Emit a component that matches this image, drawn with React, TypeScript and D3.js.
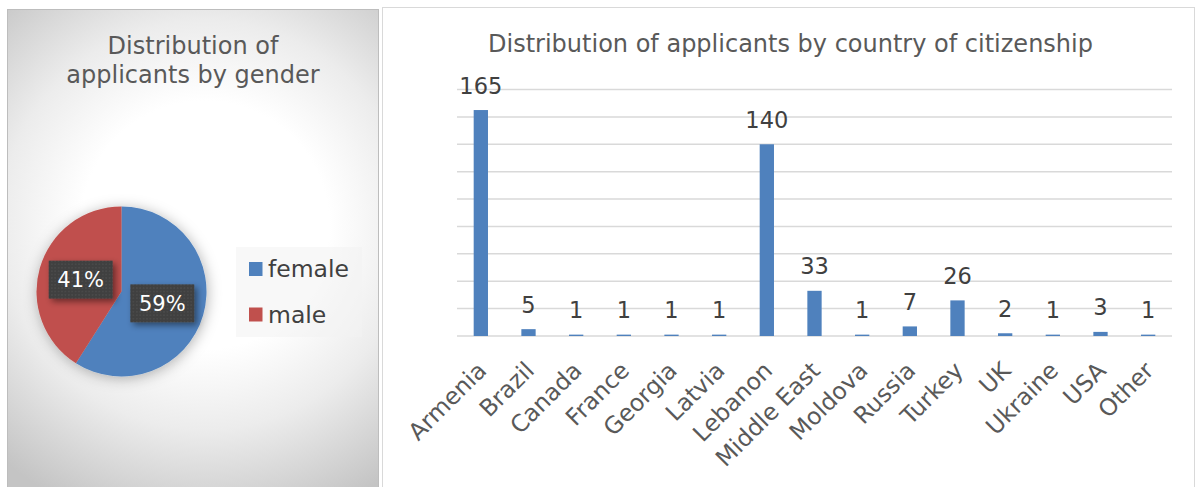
import React from "react";
import * as d3 from "d3";

const genderLabels = ["female", "male"];
const genderValues = [59, 41];
const genderColors = ["#4f81bd", "#c0504d"];

const countries = ["Armenia", "Brazil", "Canada", "France", "Georgia", "Latvia", "Lebanon", "Middle East", "Moldova", "Russia", "Turkey", "UK", "Ukraine", "USA", "Other"];
const counts = [165, 5, 1, 1, 1, 1, 140, 33, 1, 7, 26, 2, 1, 3, 1];
const yTicks = [0, 20, 40, 60, 80, 100, 120, 140, 160, 180];

const FONT = "'DejaVu Sans', sans-serif";

export default function App() {
  const W = 1197, H = 487;
  // pie
  const cx = 121.5, cy = 291.5, r = 85;
  const pie = d3.pie<number>().sort(null).value((d) => d);
  const arcs = pie(genderValues);
  const arcGen = d3.arc<d3.PieArcDatum<number>>().innerRadius(0).outerRadius(r);
  const total = d3.sum(genderValues);

  // bars
  const x = d3.scaleBand<string>().domain(countries).range([457, 1172]).paddingInner(0.7).paddingOuter(0.35);
  const y = d3.scaleLinear().domain([0, 180]).range([336, 89.5]);

  return (
    <div style={{ position: "absolute", left: 0, top: 0 }}>
      <svg width={W} height={H} style={{ display: "block" }}>
        <defs>
          <radialGradient id="bgGrad" gradientUnits="userSpaceOnUse" cx={205} cy={225} r={310}>
            <stop offset="0" stopColor="#ffffff" />
            <stop offset="0.4" stopColor="#ffffff" />
            <stop offset="0.66" stopColor="#ececec" />
            <stop offset="1" stopColor="#c4c4c4" />
          </radialGradient>
          <filter id="pieShadow" x="-30%" y="-30%" width="160%" height="160%">
            <feDropShadow dx="1" dy="2" stdDeviation="7" floodColor="#000" floodOpacity="0.3" />
          </filter>
          <filter id="boxShadow" x="-30%" y="-30%" width="160%" height="160%">
            <feDropShadow dx="3" dy="3" stdDeviation="3" floodColor="#000" floodOpacity="0.45" />
          </filter>
          <pattern id="dots" width="3.4" height="3.4" patternUnits="userSpaceOnUse">
            <rect width="3.4" height="3.4" fill="#404040" />
            <rect x="1.2" y="1.2" width="1" height="1" fill="#5a5a5a" />
          </pattern>
        </defs>
        <rect x={0} y={0} width={W} height={H} fill="#ffffff" />

        {/* Left panel */}
        <rect x={7.5} y={9.5} width={371} height={490} fill="url(#bgGrad)" stroke="#bdbdbd" strokeWidth={1} />
        <text x={193} y={54} textAnchor="middle" fontFamily={FONT} fontSize={24} fill="#595959">Distribution of</text>
        <text x={193} y={83} textAnchor="middle" fontFamily={FONT} fontSize={24} fill="#595959">applicants by gender</text>

        <g transform={`translate(${cx},${cy})`} filter="url(#pieShadow)">
          {arcs.map((a, i) => (
            <path key={genderLabels[i]} d={arcGen(a) || ""} fill={genderColors[i]} />
          ))}
        </g>
        {arcs.map((a, i) => {
          const [px, py] = arcGen.centroid(a);
          const label = `${Math.round((a.data / total) * 100)}%`;
          const bw = 64, bh = 38;
          return (
            <g key={"lbl" + i} transform={`translate(${cx + px},${cy + py})`}>
              <rect x={-bw / 2} y={-bh / 2} width={bw} height={bh} fill="url(#dots)" filter="url(#boxShadow)" />
              <text x={0} y={7.5} textAnchor="middle" fontFamily={FONT} fontSize={21} fill="#ffffff">{label}</text>
            </g>
          );
        })}

        {/* legend */}
        <rect x={236} y={247} width={126} height={90} fill="#f2f2f2" fillOpacity={0.55} />
        {genderLabels.map((g, i) => (
          <g key={"leg" + g} transform={`translate(249,${262 + i * 45.5})`}>
            <rect x={0} y={0} width={13.5} height={14} fill={genderColors[i]} />
            <text x={19} y={15} fontFamily={FONT} fontSize={23.5} fill="#404040">{g}</text>
          </g>
        ))}

        {/* Right panel */}
        <rect x={382.5} y={7.5} width={812} height={490} fill="#ffffff" stroke="#d9d9d9" strokeWidth={1} />
        <text x={790.5} y={52} textAnchor="middle" fontFamily={FONT} fontSize={24} fill="#595959">Distribution of applicants by country of citizenship</text>

        {yTicks.map((t) => (
          <line key={"g" + t} x1={457} x2={1172} y1={y(t)} y2={y(t)} stroke="#d9d9d9" strokeWidth={1.5} />
        ))}

        {countries.map((c, i) => {
          const bx = x(c)!;
          const v = counts[i];
          return (
            <g key={"bar" + c}>
              <rect x={bx} y={y(v)} width={x.bandwidth()} height={y(0) - y(v)} fill="#4f81bd" />
              <text x={bx + x.bandwidth() / 2} y={y(v) - 16.5} textAnchor="middle" fontFamily={FONT} fontSize={22.5} fill="#404040">{v}</text>
            </g>
          );
        })}

        {countries.map((c) => {
          const cxp = x(c)! + x.bandwidth() / 2;
          return (
            <text key={"cat" + c} transform={`translate(${cxp + 7},${336 + 36}) rotate(-45)`} textAnchor="end" fontFamily={FONT} fontSize={23.5} fill="#595959">{c}</text>
          );
        })}
      </svg>
    </div>
  );
}
